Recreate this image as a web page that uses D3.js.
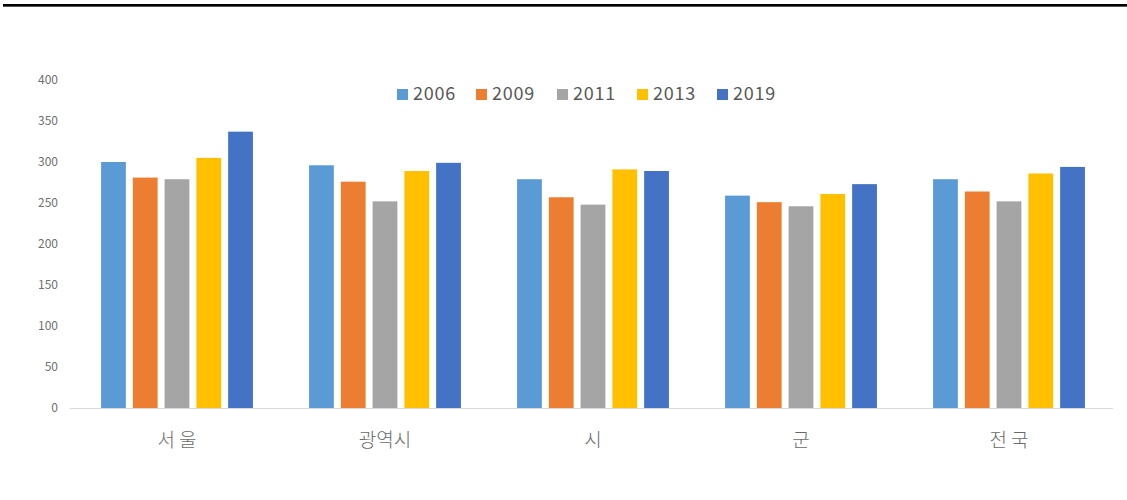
<!DOCTYPE html>
<html>
<head>
<meta charset="utf-8">
<script src="https://cdn.jsdelivr.net/npm/d3@7"></script>
<style>
body{margin:0;background:#fff;}
text{font-family:"Noto Sans CJK KR","Noto Sans",sans-serif;}
</style>
</head>
<body>
<div id="canvas"></div>
<script>
// data
var regions = ['서 울','광역시','시','군','전 국'];
var years = ['2006','2009','2011','2013','2019'];
var v2006 = [300, 296, 279, 259, 279];
var v2009 = [281, 276, 257, 251, 264];
var v2011 = [279, 252, 248, 246, 252];
var v2013 = [305, 289, 291, 261, 286];
var v2019 = [337, 299, 289, 273, 294];
var yTicks = [0,50,100,150,200,250,300,350,400];
var colors = ['#5B9BD5','#ED7D31','#A5A5A5','#FFC000','#4472C4'];

var series = [v2006, v2009, v2011, v2013, v2019];
var W = 1127, H = 500;

var svg = d3.select('#canvas').append('svg')
    .attr('width', W).attr('height', H);

// top rule
svg.append('rect').attr('x',3).attr('y',4).attr('width',W-3).attr('height',2).attr('fill','#000');
svg.append('rect').attr('x',3).attr('y',6).attr('width',W-3).attr('height',1).attr('fill','#555');

var x0 = d3.scaleBand().domain(regions).range([73,1113]).paddingInner(0.27).paddingOuter(0.135);
var x1 = d3.scaleBand().domain(years).range([0, x0.bandwidth()]).paddingInner(0.22);
var y = d3.scaleLinear().domain([0,400]).range([408,80]);

// y axis labels (no line)
var axisY = d3.axisLeft(y).tickValues(yTicks).tickSize(0).tickPadding(0);
var gy = svg.append('g').attr('transform','translate(58,0)').call(axisY);
gy.select('.domain').remove();
gy.selectAll('text').attr('fill','#6f6f6f').style('font-size','12px');

// bars
var groups = svg.selectAll('.grp').data(regions).enter().append('g')
    .attr('class','grp')
    .attr('transform', function(d){ return 'translate(' + x0(d) + ',0)'; });

groups.selectAll('rect').data(function(d,i){
        return years.map(function(yr,k){ return {yr:yr, k:k, v:series[k][i]}; });
    }).enter().append('rect')
    .attr('x', function(d){ return x1(d.yr); })
    .attr('width', x1.bandwidth())
    .attr('y', function(d){ return y(d.v); })
    .attr('height', function(d){ return y(0) - y(d.v); })
    .attr('fill', function(d){ return colors[d.k]; });

// baseline
svg.append('line').attr('x1',70).attr('x2',1113).attr('y1',y(0)+0.5).attr('y2',y(0)+0.5)
    .attr('stroke','#d9d9d9').attr('stroke-width',1);

// x axis labels
var axisX = d3.axisBottom(x0).tickSize(0).tickPadding(0);
var gx = svg.append('g').attr('transform','translate(0,433)').call(axisX);
gx.select('.domain').remove();
gx.selectAll('text').attr('fill','#6a6a6a').style('font-size','19px').style('font-weight','300');

// legend
var legX = [397, 476, 557, 637, 717];
var leg = svg.selectAll('.leg').data(years).enter().append('g')
    .attr('class','leg')
    .attr('transform', function(d,i){ return 'translate(' + legX[i] + ',89)'; });
leg.append('rect').attr('width',11).attr('height',11)
    .attr('fill', function(d,i){ return colors[i]; });
leg.append('text').attr('x',16).attr('y',11)
    .attr('fill','#595959').style('font-size','18px').style('letter-spacing','0.8px')
    .text(function(d){ return d; });
</script>
</body>
</html>
